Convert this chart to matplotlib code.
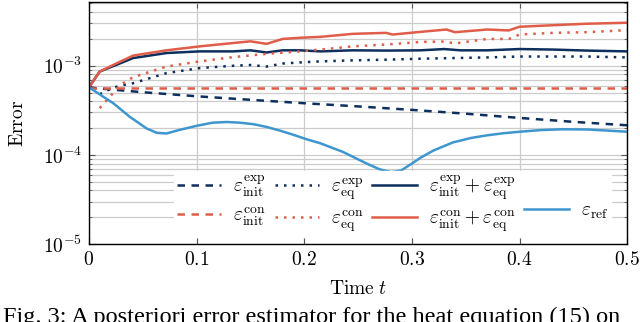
import numpy as np
import matplotlib
matplotlib.use("Agg")
import matplotlib.pyplot as plt
from matplotlib.lines import Line2D
import matplotlib.ticker as ticker

plt.rcParams["mathtext.fontset"] = "cm"
plt.rcParams["font.family"] = "serif"
plt.rcParams["font.serif"] = ["Liberation Serif", "DejaVu Serif"]

# values
t_ref = [0.0, 0.012, 0.0226, 0.038, 0.0536, 0.063, 0.072, 0.085, 0.1, 0.115, 0.128, 0.14,
         0.153, 0.165, 0.177, 0.19, 0.202, 0.215, 0.236, 0.258, 0.27, 0.281, 0.29, 0.3,
         0.308, 0.32, 0.338, 0.355, 0.37, 0.385, 0.4, 0.42, 0.44, 0.4625, 0.48, 0.5]
err_ref = [5.74e-4, 4.6e-4, 3.8e-4, 2.67e-4, 1.98e-4, 1.77e-4, 1.74e-4, 1.92e-4, 2.12e-4,
           2.3e-4, 2.34e-4, 2.3e-4, 2.21e-4, 2.06e-4, 1.88e-4, 1.68e-4, 1.5e-4, 1.35e-4,
           1.08e-4, 8.0e-5, 6.9e-5, 6.4e-5, 6.7e-5, 8.0e-5, 9.3e-5, 1.12e-4, 1.38e-4,
           1.55e-4, 1.66e-4, 1.75e-4, 1.82e-4, 1.9e-4, 1.94e-4, 1.93e-4, 1.88e-4, 1.82e-4]

t_init = [0.0, 0.05, 0.1, 0.15, 0.2, 0.25, 0.3, 0.35, 0.4, 0.45, 0.5]
init_exp = [5.7e-4, 5.05e-4, 4.55e-4, 4.15e-4, 3.8e-4, 3.5e-4, 3.2e-4, 2.9e-4, 2.6e-4, 2.35e-4, 2.15e-4]
init_con = [5.64e-4, 5.64e-4, 5.64e-4, 5.64e-4, 5.64e-4, 5.64e-4, 5.64e-4, 5.64e-4, 5.64e-4, 5.64e-4, 5.64e-4]

t_eq_exp = [0.01, 0.02, 0.029, 0.041, 0.072, 0.103, 0.134, 0.15, 0.165, 0.18, 0.196, 0.215,
            0.245, 0.276, 0.308, 0.338, 0.37, 0.4, 0.431, 0.4625, 0.5]
eq_exp = [4.8e-4, 5.5e-4, 6.0e-4, 6.37e-4, 8.27e-4, 9.42e-4, 1.0e-3, 1.02e-3, 0.98e-3, 1.06e-3,
          1.09e-3, 1.12e-3, 1.15e-3, 1.17e-3, 1.2e-3, 1.22e-3, 1.24e-3, 1.27e-3, 1.27e-3, 1.27e-3, 1.24e-3]

t_eq_con = [0.01, 0.02, 0.029, 0.041, 0.072, 0.103, 0.134, 0.165, 0.196, 0.215, 0.245, 0.276,
            0.308, 0.33, 0.34, 0.37, 0.39, 0.4, 0.431, 0.4625, 0.5]
eq_con = [3.35e-4, 4.58e-4, 6.1e-4, 7.45e-4, 9.8e-4, 1.12e-3, 1.25e-3, 1.36e-3, 1.45e-3, 1.52e-3,
          1.65e-3, 1.73e-3, 1.85e-3, 1.87e-3, 1.78e-3, 2.0e-3, 2.0e-3, 2.24e-3, 2.34e-3, 2.38e-3, 2.51e-3]

t_sum = [0.0, 0.01, 0.026, 0.041, 0.072, 0.103, 0.134, 0.15, 0.165, 0.18, 0.196, 0.215,
         0.245, 0.276, 0.308, 0.33, 0.345, 0.37, 0.4, 0.431, 0.4625, 0.5]
sum_exp = [5.74e-4, 8.62e-4, 1.03e-3, 1.22e-3, 1.39e-3, 1.45e-3, 1.45e-3, 1.49e-3, 1.41e-3, 1.49e-3,
           1.49e-3, 1.45e-3, 1.49e-3, 1.48e-3, 1.49e-3, 1.54e-3, 1.49e-3, 1.49e-3, 1.54e-3, 1.52e-3,
           1.48e-3, 1.45e-3]

t_sum_con = [0.0, 0.01, 0.026, 0.041, 0.072, 0.103, 0.134, 0.15, 0.165, 0.18, 0.196, 0.215,
             0.245, 0.276, 0.282, 0.308, 0.332, 0.34, 0.37, 0.39, 0.4, 0.431, 0.4625, 0.5]
sum_con = [5.74e-4, 8.62e-4, 1.07e-3, 1.30e-3, 1.49e-3, 1.65e-3, 1.80e-3, 1.88e-3, 1.76e-3, 2.0e-3,
           2.06e-3, 2.11e-3, 2.28e-3, 2.34e-3, 2.24e-3, 2.40e-3, 2.55e-3, 2.38e-3, 2.55e-3, 2.49e-3,
           2.74e-3, 2.85e-3, 2.96e-3, 3.04e-3]

x_ticks = [0, 0.1, 0.2, 0.3, 0.4, 0.5]
x_labels = ["$0$", "$0.1$", "$0.2$", "$0.3$", "$0.4$", "$0.5$"]
y_ticks = [1e-5, 1e-4, 1e-3]
y_labels = ["$10^{-5}$", "$10^{-4}$", "$10^{-3}$"]

navy = "#0d2f5e"
red = "#e05d4a"
blue = "#3e96cf"
lw = 1.8
dash = (3.0, 2.6)
dot = (1.0, 2.4)

fig = plt.figure(figsize=(6.4, 3.22), dpi=100)
ax = fig.add_axes([0.139, 0.242, 0.841, 0.752])

l1, = ax.plot(t_init, init_exp, color=navy, lw=lw, dashes=dash)
l2, = ax.plot(t_eq_exp, eq_exp, color=navy, lw=lw, dashes=dot)
l3, = ax.plot(t_sum, sum_exp, color=navy, lw=lw)
l4, = ax.plot(t_init, init_con, color=red, lw=lw, dashes=dash)
l5, = ax.plot(t_eq_con, eq_con, color=red, lw=lw, dashes=dot)
l6, = ax.plot(t_sum_con, sum_con, color=red, lw=lw)
l7, = ax.plot(t_ref, err_ref, color=blue, lw=lw)

ax.set_yscale("log")
ax.set_xlim(0, 0.5)
ax.set_ylim(1e-5, 5.2e-3)
ax.set_xticks(x_ticks)
ax.set_xticklabels(x_labels, fontsize=14)
ax.set_yticks(y_ticks)
ax.set_yticklabels(y_labels, fontsize=14)
ax.yaxis.set_minor_locator(ticker.LogLocator(base=10, subs=np.arange(2, 10)))
ax.yaxis.set_minor_formatter(ticker.NullFormatter())

ax.grid(True, which="major", axis="both", color="#cccccc", lw=0.9)
ax.grid(True, which="minor", axis="y", color="#cccccc", lw=0.9)
ax.set_axisbelow(True)
ax.tick_params(which="both", direction="in", top=True, right=True, color="#555555")
ax.tick_params(which="major", length=4, pad=5)
ax.tick_params(which="minor", length=2.5)
for s in ax.spines.values():
    s.set_linewidth(1.0)

ax.set_ylabel(r"$\mathrm{Error}$", fontsize=14, labelpad=11)
ax.set_xlabel(r"$\mathrm{Time}\ t$", fontsize=14, labelpad=8)

blank = Line2D([], [], lw=0)
handles = [l1, l4, l2, l5, l3, l6, blank, l7]
labels = [r"$\varepsilon_{\mathrm{init}}^{\mathrm{exp}}$", r"$\varepsilon_{\mathrm{init}}^{\mathrm{con}}$",
          r"$\varepsilon_{\mathrm{eq}}^{\mathrm{exp}}$", r"$\varepsilon_{\mathrm{eq}}^{\mathrm{con}}$",
          r"$\varepsilon_{\mathrm{init}}^{\mathrm{exp}}+\varepsilon_{\mathrm{eq}}^{\mathrm{exp}}$",
          r"$\varepsilon_{\mathrm{init}}^{\mathrm{con}}+\varepsilon_{\mathrm{eq}}^{\mathrm{con}}$",
          "", r"$\varepsilon_{\mathrm{ref}}$"]
leg = ax.legend(handles, labels, ncol=4, loc="lower right", bbox_to_anchor=(0.97, 0.03),
                borderaxespad=0, fontsize=14, frameon=True, fancybox=False,
                edgecolor="white", facecolor="white", framealpha=1,
                handlelength=2.3, handletextpad=0.6, columnspacing=0.45,
                labelspacing=0.3, borderpad=0.15)

fig.text(0.004, 1 - 307 / 322, "Fig. 3: A posteriori error estimator for the heat equation (15) on",
         fontsize=17.5, va="top", ha="left", family="Liberation Serif")

fig.savefig("out.png", dpi=100)
